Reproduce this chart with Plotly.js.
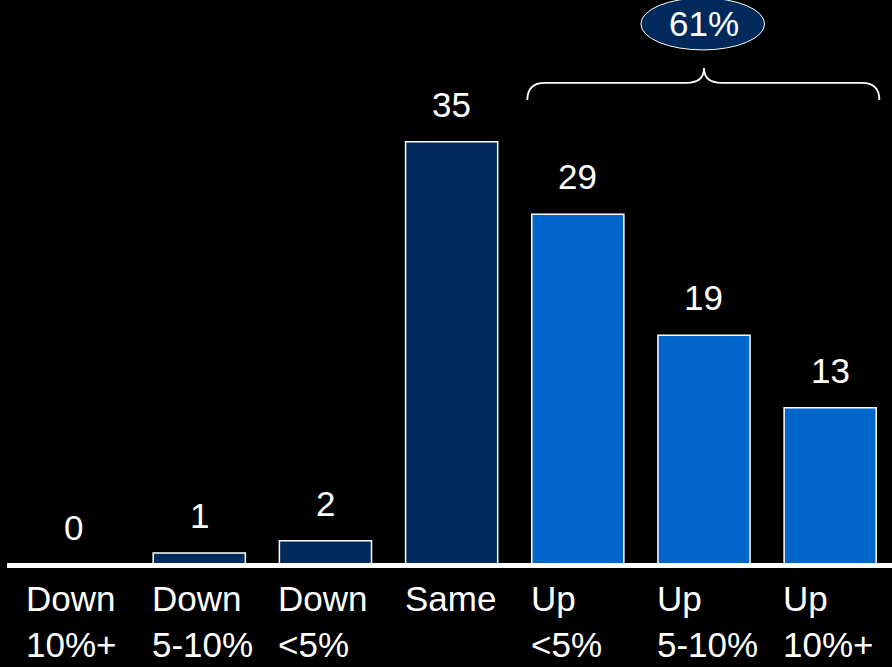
<!DOCTYPE html>
<html>
<head>
<meta charset="utf-8">
<script src="https://cdn.plot.ly/plotly-3.0.1.min.js"></script>
<style>html,body{margin:0;padding:0;background:#000;}#chart{width:892px;height:667px;}</style>
</head>
<body>
<div id="chart"></div>
<script>
const categories = ["Down<br>10%+", "Down<br>5-10%", "Down<br><5%", "Same", "Up<br><5%", "Up<br>5-10%", "Up<br>10%+"];
const values = [0, 1, 2, 35, 29, 19, 13];
const barColors = ["#002a5c", "#002a5c", "#002a5c", "#002a5c", "#0066cc", "#0066cc", "#0066cc"];
const groupLabel = "61%";

const FONT = "Arial, 'Liberation Sans', sans-serif";
const FS = 35;
const idx = categories.map((_, i) => i);
const halfBar = 0.365;

const trace = {
  type: "bar",
  x: idx,
  y: values,
  width: 2 * halfBar,
  marker: { color: barColors, line: { color: "#ffffff", width: 1.5 } },
  hoverinfo: "skip"
};

const annotations = [];
values.forEach((v, i) => {
  annotations.push({
    x: i, y: v, xref: "x", yref: "y",
    text: String(v), showarrow: false,
    xanchor: "center", yanchor: "bottom", yshift: 16,
    font: { family: FONT, size: FS, color: "#ffffff" }
  });
});
categories.forEach((c, i) => {
  annotations.push({
    x: i - halfBar, y: 0, xref: "x", yref: "paper",
    text: c, showarrow: false, align: "left",
    xanchor: "left", yanchor: "top", yshift: -12, xshift: -3,
    font: { family: FONT, size: FS, color: "#ffffff" }
  });
});
annotations.push({
  x: 5, y: 44.75, xref: "x", yref: "y",
  text: groupLabel, showarrow: false,
  xanchor: "center", yanchor: "middle",
  font: { family: FONT, size: FS, color: "#ffffff" }
});

const bL = 3.6, bR = 6.39, bC = 5, yEnd = 38.46, yMid = 39.87, yTip = 41.1, c = 0.14;
const bracePath = `M ${bL},${yEnd} Q ${bL},${yMid} ${bL + c},${yMid} L ${bC - c},${yMid} Q ${bC},${yMid} ${bC},${yTip} Q ${bC},${yMid} ${bC + c},${yMid} L ${bR - c},${yMid} Q ${bR},${yMid} ${bR},${yEnd}`;

const shapes = [
  { type: "line", xref: "paper", yref: "paper", x0: -0.0034, x1: 1.01, y0: -0.0009, y1: -0.0009,
    line: { color: "#ffffff", width: 5 }, layer: "above" },
  { type: "path", xref: "x", yref: "y", path: bracePath,
    line: { color: "#ffffff", width: 1.8 } },
  { type: "circle", xref: "x", yref: "y", x0: 4.5, x1: 5.48, y0: 42.6, y1: 46.9,
    fillcolor: "#002a5c", line: { color: "#ffffff", width: 1 }, layer: "above" }
];

const layout = {
  width: 892, height: 667,
  paper_bgcolor: "#000000", plot_bgcolor: "#000000",
  margin: { l: 10, r: 0, t: 0, b: 102 },
  showlegend: false,
  xaxis: { range: [-0.5, 6.49], showticklabels: false, showgrid: false, zeroline: false, showline: false, ticks: "" },
  yaxis: { range: [0, 46.73], showticklabels: false, showgrid: false, zeroline: false, showline: false, ticks: "" },
  annotations: annotations,
  shapes: shapes,
  font: { family: FONT, color: "#ffffff" }
};

Plotly.newPlot("chart", [trace], layout, { displayModeBar: false, staticPlot: true });
</script>
</body>
</html>
